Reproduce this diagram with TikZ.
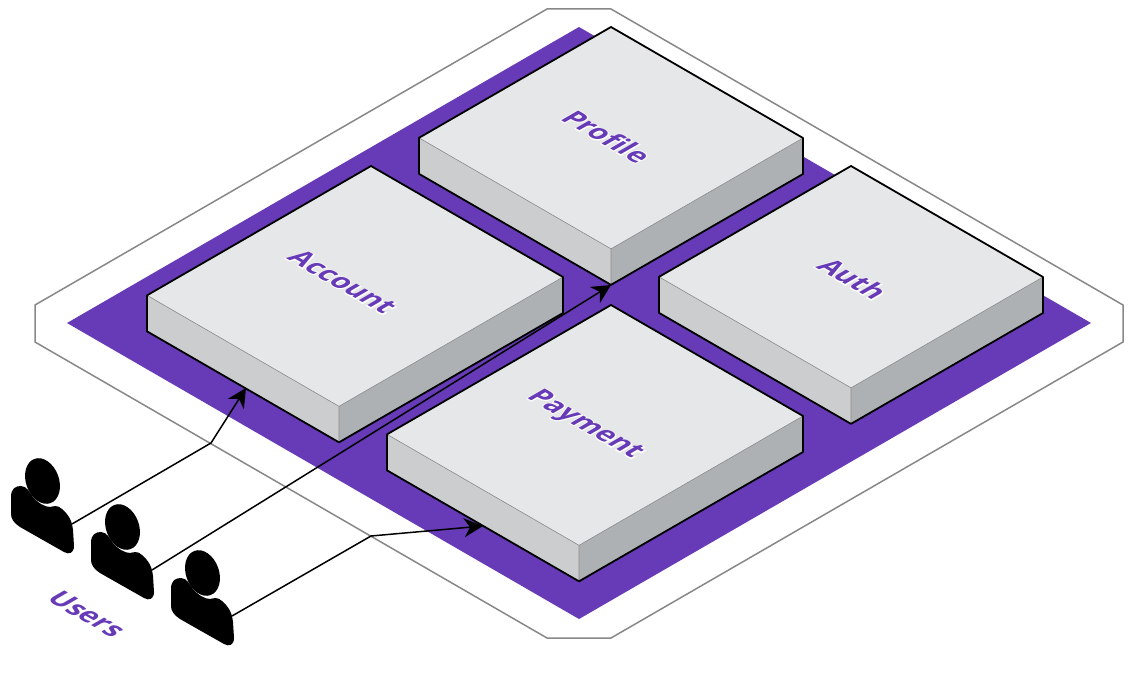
\documentclass[tikz,border=0pt]{standalone}
\usepackage{xcolor}
\usepackage{fontspec}
\usetikzlibrary{arrows.meta,calc}
\setmainfont{Open Sans}
\definecolor{floorc}{HTML}{673AB7}
\definecolor{topc}{HTML}{E6E7E8}
\definecolor{leftc}{HTML}{CBCDCF}
\definecolor{rightc}{HTML}{AEB1B3}
\definecolor{ringc}{HTML}{888888}
\newcommand{\halo}[1]{\rlap{\special{pdf:code q 1 1 1 RG 1 1 1 rg 2 w 2 Tr}#1\special{pdf:code 0 Tr Q}}#1}
\tikzset{
  ring/.style={draw=ringc, line width=1.5pt, fill=white},
  edge/.style={draw=black, line width=1.8pt, line join=round},
  fold/.style={draw=black!45, line width=0.6pt},
  arr/.style={-{Stealth[length=19pt, width=19pt, inset=6pt]}, line width=1.5pt},
  iso/.style={cm={0.866,-0.5,0.866,0.5,(0,0)}, font=\bfseries\fontsize{27.5}{27.5}\selectfont,
              text=floorc, inner sep=0pt},
  user/.pic={
    \fill (42.5,481) ellipse [x radius=16.5, y radius=23.5, rotate=20];
    \fill (11,497) .. controls (11,488) and (16,486) .. (21,486)
      .. controls (27,486) and (30,493) .. (33,497)
      .. controls (38,503) and (45,507) .. (50,507)
      .. controls (54,506) and (58,505) .. (62,509)
      .. controls (69,515) and (72,521) .. (73,530)
      -- (74,546) .. controls (74,553) and (69,555) .. (64,552)
      -- (20,527) .. controls (14,523) and (11,519) .. (11,514) -- cycle;
    \coordinate (-out) at (72,524);
  },
}

\begin{document}
\begin{tikzpicture}[x=1pt, y=-1pt]
  \useasboundingbox (0,0) rectangle (1131,676);
  \draw[ring] (547,9) -- (611,9) -- (1123,305) -- (1123,342) -- (611,638)
    -- (547,638) -- (35,342) -- (35,305) -- cycle;
  \fill[floorc] (579,27) -- (1091,323) -- (579,619) -- (67,323) -- cycle;
  % top corner, then how far the left side runs
  \foreach \nm/\x/\y/\w in {profile/611/27/192, auth/851/166/192, account/371/166/224, payment/611/305/224} {
    \coordinate (\nm top) at (\x,\y);
    \coordinate (\nm right) at (\x+192,\y+111);
    \coordinate (\nm left) at (\x-\w,\y+\w*0.5774);
    \coordinate (\nm front) at (\x+192-\w,\y+111+\w*0.5774);
    \fill[leftc] (\nm left) -- (\nm front) -- ++(0,36) -- ($(\nm left)+(0,36)$) -- cycle;
    \fill[rightc] (\nm right) -- (\nm front) -- ++(0,36) -- ($(\nm right)+(0,36)$) -- cycle;
    \fill[topc] (\nm top) -- (\nm right) -- (\nm front) -- (\nm left) -- cycle;
    \draw[fold] (\nm left) -- (\nm front) -- (\nm right) (\nm front) -- ++(0,36);
    \draw[edge] (\nm top) -- (\nm right) -- ++(0,36) -- ($(\nm front)+(0,36)$)
      -- ($(\nm left)+(0,36)$) -- (\nm left) -- cycle;
  }
  \node[iso] (acct) at (343,282) {\halo{Account}};
  \node[iso] (prof) at (607,136.5) {\halo{Profile}};
  \node[iso] (ath) at (853,279) {\halo{Auth}};
  \node[iso] (pay) at (584.5,425) {\halo{Payment}};
  \node[iso] (usrs) at (87,614) {\halo{Users}};

  \pic (usra) at (0,0) {user};
  \pic (usrb) at (80,46) {user};
  \pic (usrc) at (160,92) {user};

  \coordinate (benda) at (211,443);
  \coordinate (bendc) at (371,536);
  \coordinate (acctin) at (246,388);
  \coordinate (hub) at (611,285);
  \coordinate (payin) at (483,526);
  \draw[arr] (usra-out) -- (benda) -- (acctin);
  \draw[arr] (usrb-out) -- (hub);
  \draw[arr] (usrc-out) -- (bendc) -- (payin);
\end{tikzpicture}
\end{document}
